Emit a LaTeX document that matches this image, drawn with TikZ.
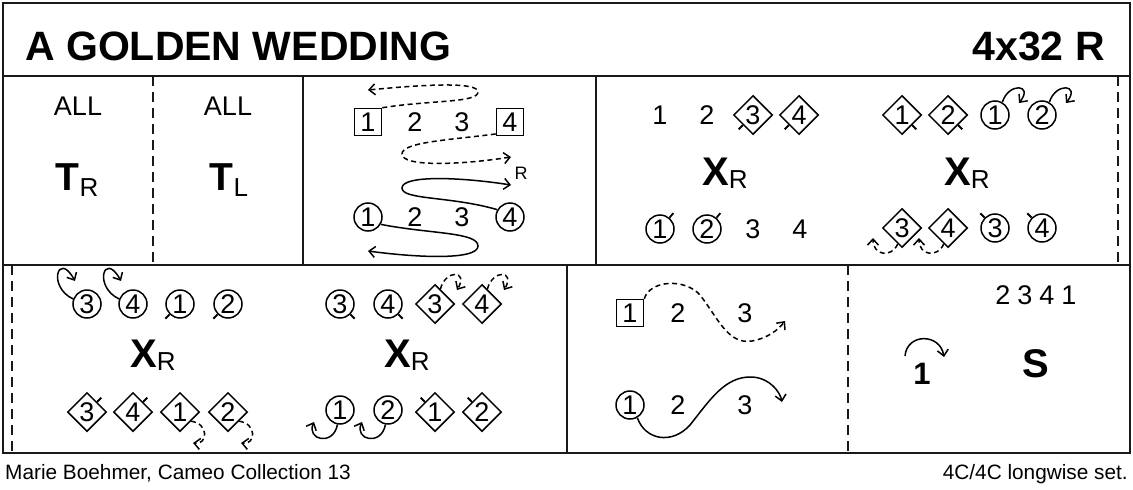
\documentclass[tikz,border=0pt]{standalone}
\usepackage{fontspec}
\setmainfont{Liberation Sans}
\usetikzlibrary{shapes.geometric,arrows.meta}
\newcommand{\myfs}[1]{\fontsize{#1}{#1}\selectfont}
\begin{document}
\begin{tikzpicture}[x=1pt,y=-1pt,
  fr/.style={line width=1.8pt, draw=black!90},
  dline/.style={fr, dash pattern=on 10pt off 6pt},
  nm/.style={font={\myfs{27}}, inner sep=0pt, text height=19.4pt, text depth=0pt},
  cir/.style={nm, circle, draw, line width=1.5pt, minimum size=28pt},
  dia/.style={nm, diamond, draw, line width=1.5pt, minimum size=39pt},
  sqr/.style={nm, rectangle, draw, line width=1.5pt, minimum size=27pt},
  tk/.style={line width=1.8pt},
  arr/.style={line width=1.5pt, -{Straight Barb[length=6pt,width=11pt]}},
  darr/.style={arr, dash pattern=on 5pt off 3.5pt},
  bl/.style={font={\myfs{40}\bfseries}, inner sep=0pt},
  xr/.style={inner sep=0pt, anchor=base},
]
\useasboundingbox (0,0) rectangle (1133,490);
% frame
\draw[fr] (3,3) rectangle (1130,453);
\draw[fr] (3,76) -- (1130,76);
\draw[fr] (3,265) -- (1130,265);
\draw[dline] (153,76) -- (153,265);
\draw[fr] (303,76) -- (303,265);
\draw[fr] (596,76) -- (596,265);
\draw[dline] (1118,76) -- (1118,265);
\draw[dline] (12,265) -- (12,453);
\draw[fr] (567,265) -- (567,453);
\draw[dline] (848,265) -- (848,453);

% title and footer
\node[anchor=base west, inner sep=0pt, font={\myfs{41}\bfseries}] (title) at (25,60) {A GOLDEN WEDDING};
\node[anchor=base east, inner sep=0pt, font={\myfs{41}\bfseries}] (code) at (1105,60) {4x32 R};
\node[anchor=base west, inner sep=0pt, font={\myfs{20.8}}] (auth) at (5,479) {Marie Boehmer, Cameo Collection 13};
\node[anchor=base east, inner sep=0pt, font={\myfs{20.8}}] (fmt) at (1128,479) {4C/4C longwise set.};

% row 1: turns
\node[nm] (all1) at (78,106) {ALL};
\node[nm] (all2) at (228,106) {ALL};
\node[xr] (tr) at (77,190) {{\myfs{39}\bfseries T}\raisebox{-6pt}{\myfs{26}R}};
\node[xr] (tl) at (229,190) {{\myfs{39}\bfseries T}\raisebox{-6pt}{\myfs{26}L}};

% row 1: middle panel
\node[sqr] (m1) at (368,122) {1};
\node[nm]  (m2) at (415,122) {2};
\node[nm]  (m3) at (462,122) {3};
\node[sqr] (m4) at (510,122) {4};
\node[cir] (n1) at (368,217) {1};
\node[nm]  (n2) at (415,217) {2};
\node[nm]  (n3) at (462,217) {3};
\node[cir] (n4) at (510,217) {4};
\node[inner sep=0pt, font={\myfs{18}}] (rlab) at (521,173) {R};
\coordinate (tm1) at (368,90);
\coordinate (tm2) at (511,157);
\coordinate (tn3) at (511,185);
\coordinate (tn4) at (368,251);
\draw[darr] (m1.north east) .. controls (430,100) and (478,103) .. (478,92) .. controls (478,82) and (430,84) .. (tm1);
\draw[darr] (m4.220) .. controls (450,140) and (402,142) .. (402,154) .. controls (402,167) and (460,165) .. (tm2);
\draw[arr] (n4.150) .. controls (450,196) and (402,200) .. (402,188) .. controls (402,175) and (460,177) .. (tn3);
\draw[arr] (n1.330) .. controls (430,234) and (478,232) .. (478,246) .. controls (478,260) and (420,258) .. (tn4);

% row 1: group A
\node[nm]  (a1) at (660,115) {1};
\node[nm]  (a2) at (707,115) {2};
\node[dia] (a3) at (753,115) {3};
\node[dia] (a4) at (799,115) {4};
\draw[tk] (a3.225) -- ++(225:6pt);
\draw[tk] (a4.225) -- ++(225:6pt);
\node[xr] (xa) at (725,185) {{\myfs{40}\bfseries X}\raisebox{-3pt}{\myfs{26}R}};
\node[cir] (a5) at (660,229) {1};
\node[cir] (a6) at (707,229) {2};
\node[nm]  (a7) at (753,229) {3};
\node[nm]  (a8) at (800,229) {4};
\draw[tk] (a5.50) -- ++(50:6pt);
\draw[tk] (a6.50) -- ++(50:6pt);

% row 1: group B
\node[dia] (b1) at (902,115) {1};
\node[dia] (b2) at (948,115) {2};
\node[cir] (b3) at (995,115) {1};
\node[cir] (b4) at (1042,115) {2};
\draw[tk] (b1.315) -- ++(315:6pt);
\draw[tk] (b2.315) -- ++(315:6pt);
\coordinate (tb3) at (1019,103);
\coordinate (tb4) at (1066,103);
\draw[arr] (b3.60) .. controls +(6,-20) and +(15,-19) .. (tb3);
\draw[arr] (b4.60) .. controls +(6,-20) and +(15,-19) .. (tb4);
\node[xr] (xb) at (967,185) {{\myfs{40}\bfseries X}\raisebox{-3pt}{\myfs{26}R}};
\node[dia] (b5) at (902,228) {3};
\node[dia] (b6) at (948,228) {4};
\node[cir] (b7) at (995,228) {3};
\node[cir] (b8) at (1042,228) {4};
\draw[tk] (b7.135) -- ++(135:6pt);
\draw[tk] (b8.135) -- ++(135:6pt);
\coordinate (tb5) at (873,238);
\coordinate (tb6) at (919,238);
\draw[darr] (b5.255) .. controls +(-6,14) and +(0,18) .. (tb5);
\draw[darr] (b6.255) .. controls +(-6,14) and +(0,18) .. (tb6);

% row 2: group C
\node[cir] (c1) at (87,304) {3};
\node[cir] (c2) at (133,304) {4};
\node[cir] (c3) at (180,304) {1};
\node[cir] (c4) at (228,304) {2};
\draw[tk] (c3.225) -- ++(225:6pt);
\draw[tk] (c4.225) -- ++(225:6pt);
\coordinate (tc1) at (75,281);
\coordinate (tc2) at (121,281);
\draw[arr] (c1.160) .. controls +(-26,-12) and +(-17,-31) .. (tc1);
\draw[arr] (c2.160) .. controls +(-26,-12) and +(-17,-31) .. (tc2);
\node[xr] (xc) at (153,367) {{\myfs{40}\bfseries X}\raisebox{-3pt}{\myfs{26}R}};
\node[dia] (c5) at (87,412) {3};
\node[dia] (c6) at (133,412) {4};
\node[dia] (c7) at (180,412) {1};
\node[dia] (c8) at (228,412) {2};
\draw[tk] (c5.45) -- ++(45:6pt);
\draw[tk] (c6.45) -- ++(45:6pt);
\coordinate (tc7) at (193,443);
\coordinate (tc8) at (241,443);
\draw[darr] (c7.320) .. controls +(18,2) and +(15,2) .. (tc7);
\draw[darr] (c8.320) .. controls +(18,2) and +(15,2) .. (tc8);

% row 2: group D
\node[cir] (d1) at (340,304) {3};
\node[cir] (d2) at (388,304) {4};
\node[dia] (d3) at (435,304) {3};
\node[dia] (d4) at (482,304) {4};
\draw[tk] (d1.315) -- ++(315:6pt);
\draw[tk] (d2.315) -- ++(315:6pt);
\coordinate (td3) at (457,290);
\coordinate (td4) at (504,290);
\draw[darr] (d3.70) .. controls +(5,-20) and +(12,-20) .. (td3);
\draw[darr] (d4.70) .. controls +(5,-20) and +(12,-20) .. (td4);
\node[xr] (xd) at (407,367) {{\myfs{40}\bfseries X}\raisebox{-3pt}{\myfs{26}R}};
\node[cir] (d5) at (340,410) {1};
\node[cir] (d6) at (388,410) {2};
\node[dia] (d7) at (435,412) {1};
\node[dia] (d8) at (482,412) {2};
\draw[tk] (d7.135) -- ++(135:6pt);
\draw[tk] (d8.135) -- ++(135:6pt);
\coordinate (td5) at (314,422);
\coordinate (td6) at (362,422);
\draw[arr] (d5.260) .. controls +(-4,22) and +(-8,18) .. (td5);
\draw[arr] (d6.260) .. controls +(-4,22) and +(-8,18) .. (td6);

% row 2: middle panel
\node[sqr] (p1) at (630,313) {1};
\node[nm]  (p2) at (678,313) {2};
\node[nm]  (p3) at (745,313) {3};
\node[cir] (q1) at (630,405) {1};
\node[nm]  (q2) at (678,405) {2};
\node[nm]  (q3) at (745,405) {3};
\coordinate (tp) at (785,321);
\coordinate (tq) at (782,402);
\draw[darr] (p1.north east) .. controls (650,280) and (685,278) .. (700,295) .. controls (718,318) and (728,345) .. (752,341) .. controls (768,338) and (778,330) .. (tp);
\draw[arr] (q1.300) .. controls (645,440) and (672,445) .. (690,425) .. controls (710,400) and (725,376) .. (752,377) .. controls (770,378) and (780,392) .. (tq);

% row 2: right panel
\node[nm] (ord) at (1036,295) {2\hspace{7pt}3\hspace{7pt}4\hspace{7pt}1};
\node[inner sep=0pt, font={\myfs{31}\bfseries}] (r1) at (922,374) {1};
\node[bl] (sn) at (1036,364) {S};
\coordinate (ra) at (905,356);
\coordinate (rb) at (944,357);
\draw[arr] (ra) .. controls (907,333) and (940,333) .. (rb);
\end{tikzpicture}
\end{document}
